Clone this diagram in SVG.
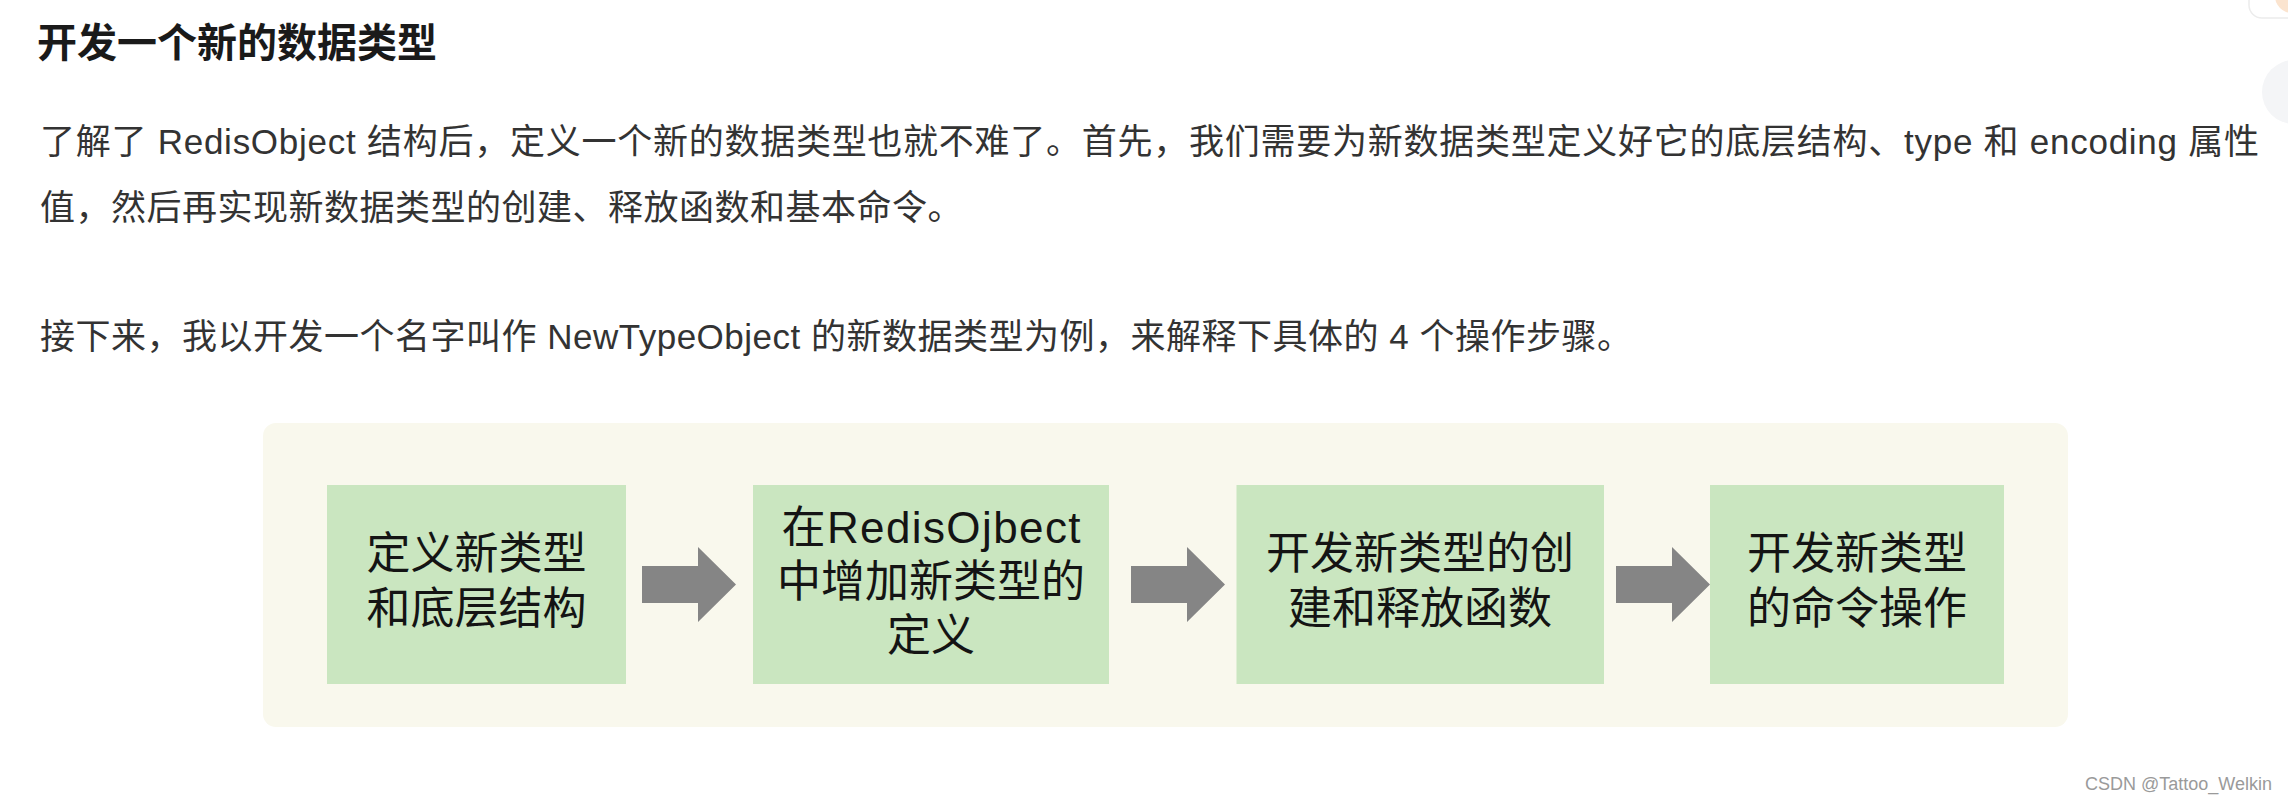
<svg xmlns="http://www.w3.org/2000/svg" width="2288" height="802" viewBox="0 0 2288 802">
  <style>
    .title { font-family: "Liberation Sans", "Noto Sans CJK SC", sans-serif; font-size: 40px; font-weight: 700; fill: #1a1a1a; }
    .para { font-family: "Liberation Sans", "Noto Sans CJK SC", sans-serif; font-size: 35px; fill: #333333; }
    .sp { letter-spacing: 0.5px; }
    .box { fill: #cae6c0; }
    .label { font-family: "Liberation Sans", "Noto Sans CJK SC", sans-serif; font-size: 44px; fill: #141414; text-anchor: middle; }
    .arrow { fill: #858585; }
    .wm { font-family: "Liberation Sans", "Noto Sans CJK SC", sans-serif; font-size: 18px; fill: #9a9a9a; }
  </style>
  <defs>
    <path id="arrowShape" d="M0,19 H56 V0 L94,37.5 L56,75 V56 H0 Z"/>
  </defs>
  <rect x="0" y="0" width="2288" height="802" fill="#ffffff"/>

  <!-- top-right UI fragments -->
  <rect x="2249" y="-20" width="70" height="38" rx="13" fill="#ffffff" stroke="#ececec" stroke-width="1.5"/>
  <circle cx="2292" cy="-4" r="17" fill="#fbe4cf"/>
  <circle cx="2294" cy="92" r="32" fill="#f4f5f7"/>

  <!-- article text -->
  <text class="title" x="37" y="57">开发一个新的数据类型</text>
  <text class="para" x="40" y="154" textLength="2219" lengthAdjust="spacing">了解了 RedisObject 结构后，定义一个新的数据类型也就不难了。首先，我们需要为新数据类型定义好它的底层结构、type 和 encoding 属性</text>
  <text class="para sp" x="40" y="220">值，然后再实现新数据类型的创建、释放函数和基本命令。</text>
  <text class="para sp" x="40" y="349">接下来，我以开发一个名字叫作 NewTypeObject 的新数据类型为例，来解释下具体的 4 个操作步骤。</text>

  <!-- diagram background -->
  <rect id="panel" x="263" y="423" width="1805" height="304" rx="13" fill="#f9f8ed"/>

  <g id="node1">
    <rect class="box" x="327" y="485" width="299" height="199"/>
    <text class="label" x="476.5" y="569">定义新类型</text>
    <text class="label" x="476.5" y="624">和底层结构</text>
  </g>
  <g id="node2">
    <rect class="box" x="753" y="485" width="356" height="199"/>
    <text class="label" x="931" y="543" textLength="299" lengthAdjust="spacing">在RedisOjbect</text>
    <text class="label" x="931" y="597">中增加新类型的</text>
    <text class="label" x="931" y="651">定义</text>
  </g>
  <g id="node3">
    <rect class="box" x="1236.5" y="485" width="367.5" height="199"/>
    <text class="label" x="1420" y="569">开发新类型的创</text>
    <text class="label" x="1420" y="624">建和释放函数</text>
  </g>
  <g id="node4">
    <rect class="box" x="1710" y="485" width="294" height="199"/>
    <text class="label" x="1857" y="569">开发新类型</text>
    <text class="label" x="1857" y="624">的命令操作</text>
  </g>

  <g id="connectors">
    <use href="#arrowShape" class="arrow" x="642" y="547"/>
    <use href="#arrowShape" class="arrow" x="1131" y="547"/>
    <use href="#arrowShape" class="arrow" x="1616" y="547"/>
  </g>

  <text class="wm" x="2085" y="790">CSDN @Tattoo_Welkin</text>
</svg>
